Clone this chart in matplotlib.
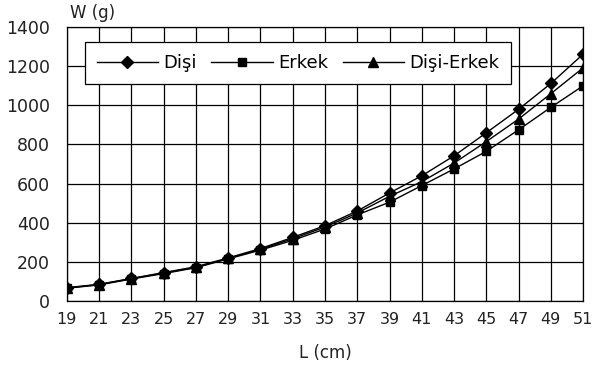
import numpy as np
import matplotlib
matplotlib.use('Agg')
import matplotlib.pyplot as plt

L = [19, 21, 23, 25, 27, 29, 31, 33, 35, 37, 39, 41, 43, 45, 47, 49, 51]

disi = [68, 85, 115, 145, 175, 220, 268, 325, 385, 460, 552, 640, 742, 860, 980, 1112, 1262]
erkek = [65, 82, 112, 140, 170, 215, 260, 310, 368, 440, 505, 590, 675, 765, 875, 990, 1100]
disi_erkek = [66, 84, 114, 143, 172, 218, 264, 318, 378, 450, 535, 610, 705, 815, 930, 1060, 1192]

plt.rcParams['font.family'] = ['DejaVu Sans']

fig = plt.figure(figsize=(5.92, 3.67), dpi=100)
ax = fig.add_axes([0.113, 0.18, 0.872, 0.746])

ax.plot(L, disi, '-D', color='k', lw=1, ms=6, label='Dişi')
ax.plot(L, erkek, '-s', color='k', lw=1, ms=6, label='Erkek')
ax.plot(L, disi_erkek, '-^', color='k', lw=1, ms=7, label='Dişi-Erkek')

ax.set_xlim(19, 51)
ax.set_ylim(0, 1400)
ax.set_xticks(L)
ax.set_yticks(range(0, 1401, 200))
ax.tick_params(length=0, labelsize=11.5, colors='#222222')
ax.tick_params(axis='y', labelsize=12.5, pad=12)
ax.tick_params(axis='x', pad=8)
ax.grid(True, color='k', lw=0.9)
ax.set_axisbelow(True)
for s in ax.spines.values():
    s.set_color('k')
    s.set_linewidth(0.9)

ax.set_xlabel('L (cm)', fontsize=12, color='#222222', labelpad=12)
fig.text(0.118, 0.95, 'W (g)', fontsize=12, color='#222222', ha='left')

leg = ax.legend(loc='upper left', bbox_to_anchor=(0.035, 0.945), ncol=3, fontsize=13,
                frameon=True, fancybox=False, edgecolor='k', framealpha=1,
                handlelength=3.4, columnspacing=0.8, handletextpad=0.3,
                borderpad=0.65, borderaxespad=0)
leg.get_frame().set_linewidth(0.9)

plt.savefig('out.png', dpi=100)
